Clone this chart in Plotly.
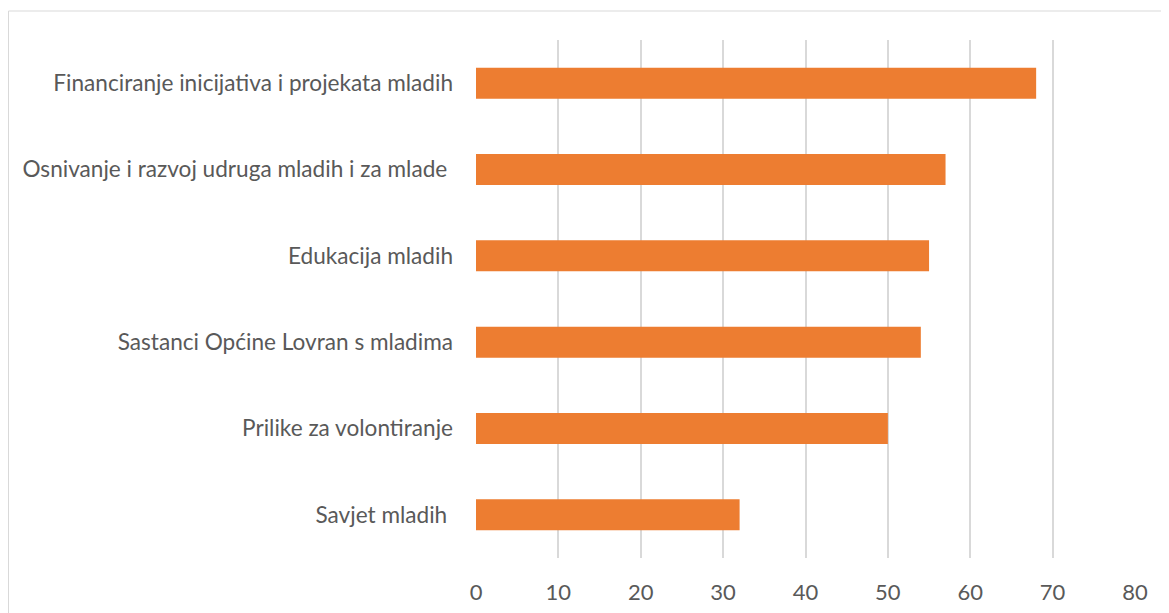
import plotly.graph_objects as go

categories = [
    "Financiranje inicijativa i projekata mladih",
    "Osnivanje i razvoj udruga mladih i za mlade ",
    "Edukacija mladih",
    "Sastanci Općine Lovran s mladima",
    "Prilike za volontiranje",
    "Savjet mladih ",
]
values = [68, 57, 55, 54, 50, 32]
x_ticks = [0, 10, 20, 30, 40, 50, 60, 70, 80]

W, H = 1169, 613
OFF = 8  # page body margin
L = 476 - OFF
T = 40 - OFF
R = W - (1135 - OFF)
B = H - (558 - OFF)
pw = W - L - R
ph = H - T - B

fig = go.Figure(go.Bar(
    x=values, y=categories, orientation="h",
    marker=dict(color="#ED7D31", line=dict(width=0)),
    width=0.36,
))

ylab_font = dict(family="Lato, Noto Sans, sans-serif", size=22.6, color="#595959")
xlab_font = dict(family="Lato, Noto Sans, sans-serif", size=22, color="#595959")

fig.update_layout(
    width=W, height=H,
    margin=dict(l=L, r=R, t=T, b=B, autoexpand=False),
    paper_bgcolor="white", plot_bgcolor="white",
    font=xlab_font,
    showlegend=False,
    xaxis=dict(range=[0, 80], tickvals=x_ticks, showgrid=True, gridcolor="#D9D9D9",
               gridwidth=1.5, zeroline=False, showline=False, ticks="",
               ticklabelstandoff=19, tickfont=xlab_font),
    yaxis=dict(autorange="reversed", showgrid=False, zeroline=False, showline=False,
               ticks="", ticklabelstandoff=22, tickfont=ylab_font),
    shapes=[dict(type="rect", xref="paper", yref="paper",
                 x0=(0.5 - L) / pw, x1=(W + 20 - L) / pw,
                 y0=(-(H + 20 - T - ph)) / ph, y1=(ph + T - 3) / ph,
                 line=dict(color="#D9D9D9", width=1), fillcolor="rgba(0,0,0,0)",
                 layer="below")],
)

fig.write_html("out.html")
